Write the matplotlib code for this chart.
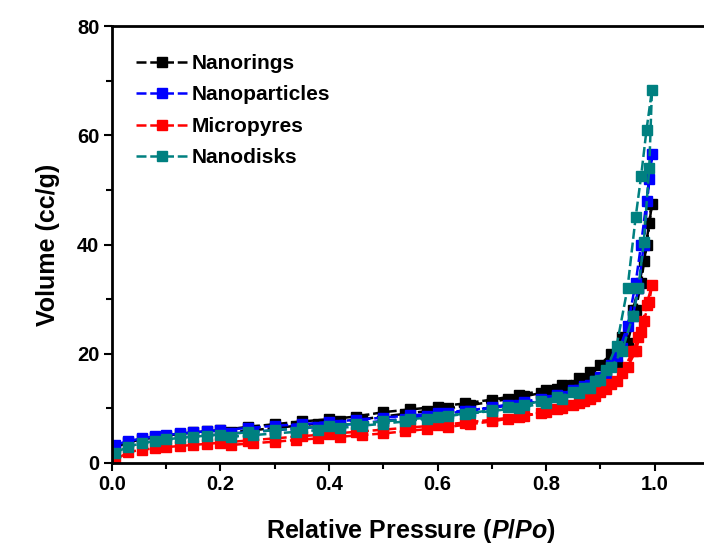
import numpy as np
import matplotlib
matplotlib.use('Agg')
import matplotlib.pyplot as plt
from matplotlib.ticker import MultipleLocator

plt.rcParams['font.family'] = 'Liberation Sans'
plt.rcParams['font.weight'] = 'bold'
plt.rcParams['mathtext.fontset'] = 'custom'
plt.rcParams['mathtext.it'] = 'Liberation Sans:bold:italic'
plt.rcParams['mathtext.rm'] = 'Liberation Sans:bold'

#--------------------------------------------------
# relative pressure points, adsorption and desorption branch
p_ads = [0.005, 0.03, 0.055, 0.08, 0.1, 0.125, 0.15, 0.175, 0.2, 0.25, 0.3, 0.35, 0.4, 0.45,
         0.5, 0.55, 0.6, 0.65, 0.7, 0.75, 0.8, 0.83, 0.86, 0.88, 0.9, 0.92, 0.94, 0.96,
         0.97, 0.98, 0.99, 0.995]
p_des = [0.985, 0.975, 0.965, 0.95, 0.93, 0.91, 0.89, 0.87, 0.85, 0.82, 0.79, 0.76, 0.73,
         0.7, 0.66, 0.62, 0.58, 0.54, 0.5, 0.46, 0.42, 0.38, 0.34, 0.3, 0.26, 0.22]

# volume adsorbed (cc/g)
rings_ads = [2.8, 3.8, 4.3, 4.7, 5.0, 5.3, 5.6, 5.8, 6.0, 6.6, 7.1, 7.6, 8.0, 8.5, 9.3, 9.8,
             10.3, 10.9, 11.6, 12.4, 13.4, 14.3, 15.5, 16.6, 18.0, 20.0, 23.0, 28.0, 32.0,
             37.0, 44.0, 47.5]
rings_des = [40, 33, 28, 22, 18, 16.5, 15.5, 14.8, 14.2, 13.5, 12.8, 12.2, 11.7, 11.2, 10.6,
             10.0, 9.5, 9.0, 8.5, 8.0, 7.6, 7.2, 6.8, 6.4, 6.0, 5.6]
parts_ads = [3.3, 4.0, 4.5, 4.9, 5.1, 5.4, 5.6, 5.8, 6.0, 6.4, 6.8, 7.1, 7.5, 7.9, 8.3, 8.7,
             9.1, 9.6, 10.1, 10.7, 11.5, 12.3, 13.3, 14.3, 15.8, 18.0, 21.0, 27.0, 32.0,
             40.0, 52.0, 56.5]
parts_des = [48, 40, 33, 25, 19.5, 16.5, 15, 14, 13.3, 12.4, 11.8, 11.2, 10.7, 10.2, 9.6,
             9.1, 8.6, 8.1, 7.7, 7.3, 6.9, 6.6, 6.3, 6.0, 5.7, 5.4]
pyres_ads = [0.5, 2.0, 2.4, 2.7, 2.9, 3.1, 3.3, 3.5, 3.7, 4.1, 4.5, 4.9, 5.3, 5.7, 6.1, 6.5,
             6.9, 7.4, 7.9, 8.5, 9.3, 10.0, 10.9, 11.8, 13.0, 14.5, 16.5, 20.5, 23.0, 26.0,
             29.5, 32.5]
pyres_des = [29, 24, 20.5, 17.5, 15, 13.5, 12.3, 11.4, 10.7, 9.8, 9.2, 8.6, 8.1, 7.6, 7.1,
             6.6, 6.2, 5.8, 5.4, 5.1, 4.8, 4.5, 4.2, 3.9, 3.6, 3.3]
disks_ads = [1.8, 3.0, 3.6, 4.0, 4.3, 4.6, 4.8, 5.0, 5.2, 5.6, 6.0, 6.4, 6.8, 7.2, 7.6, 8.0,
             8.5, 9.0, 9.5, 10.1, 11.0, 11.8, 12.8, 13.8, 15.2, 17.5, 20.5, 27.0, 32.0, 40.5,
             54.0, 68.3]
disks_des = [61, 52.5, 45, 32, 21.5, 17, 15, 13.8, 13, 12, 11.3, 10.7, 10.2, 9.7, 9.1, 8.6,
             8.1, 7.6, 7.2, 6.8, 6.4, 6.0, 5.7, 5.4, 5.1, 4.8]

names = ['Nanorings', 'Nanoparticles', 'Micropyres', 'Nanodisks']
colors = ['#000000', '#0000FF', '#FF0000', '#008080']
series = [(rings_ads, rings_des), (parts_ads, parts_des),
          (pyres_ads, pyres_des), (disks_ads, disks_des)]

#--------------------------------------------------
fig = plt.figure(figsize=(7.04, 5.44), dpi=100)
ax = fig.add_axes([0.159, 0.149, 0.848, 0.803])

for name, col, (va, vd) in zip(names, colors, series):
    x = p_ads + p_des
    y = va + vd
    ax.plot(x, y, ls=(0, (4, 1.5)), lw=1.8, color=col, marker='s', ms=6.5,
            mec=col, mfc=col, label=name)

ax.set_xlim(0, 1.1)
ax.set_ylim(0, 80)
ax.xaxis.set_major_locator(MultipleLocator(0.2))
ax.xaxis.set_minor_locator(MultipleLocator(0.1))
ax.yaxis.set_major_locator(MultipleLocator(20))
ax.yaxis.set_minor_locator(MultipleLocator(10))
ax.set_xticks([0, 0.2, 0.4, 0.6, 0.8, 1.0])
ax.set_xticklabels(['0.0', '0.2', '0.4', '0.6', '0.8', '1.0'])
ax.tick_params(which='major', direction='out', length=6, width=1.5, labelsize=14.5, pad=3)
ax.tick_params(which='minor', direction='out', length=4, width=1.5)
ax.tick_params(top=False, right=False)
for s in ax.spines.values():
    s.set_linewidth(2)
ax.spines['right'].set_visible(False)

ax.set_xlabel('Relative Pressure ($P$/$Po$)', fontsize=18, fontweight='bold', labelpad=16)
ax.set_ylabel('Volume (cc/g)', fontsize=18, fontweight='bold', labelpad=12)

ax.legend(loc='upper left', bbox_to_anchor=(0.02, 0.965), frameon=False, fontsize=15,
          handlelength=2.45, handletextpad=0.2, labelspacing=0.6, borderaxespad=0.2)

fig.savefig('out.png', dpi=100)
